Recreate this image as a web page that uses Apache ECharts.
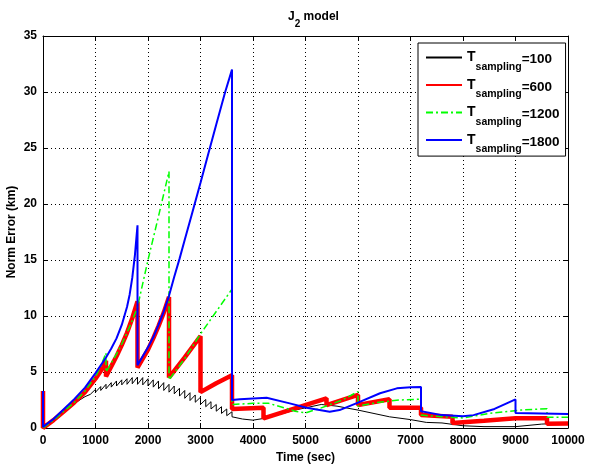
<!DOCTYPE html>
<html>
<head>
<meta charset="utf-8">
<script src="https://cdn.jsdelivr.net/npm/echarts@6/dist/echarts.min.js"></script>
<style>
html,body{margin:0;padding:0;background:#fff;}
#chart{width:589px;height:466px;}
</style>
</head>
<body>
<div id="chart"></div>
<script>
var FONT = '"Liberation Sans", Arial, Helvetica, sans-serif';

// legend labels (T_sampling = ...)
var samplingNames = ['Tsampling=100', 'Tsampling=600', 'Tsampling=1200', 'Tsampling=1800'];

// T=100 : smooth start, then 100 s sawtooth, then smooth tail
var blackStart = [[0,0],[200,0.7],[400,1.5],[600,2.2],[800,2.8],[900,3.0]];
var blackToothTimes = [900,1000,1100,1200,1300,1400,1500,1600,1700,1800,1900,2000,2100,2200,2300,2400,2500,2600,2700,2800,2900,3000,3100,3200,3300,3400,3500,3600];
var blackToothLow  = [3.0,3.2,3.35,3.5,3.65,3.75,3.85,3.9,3.95,3.9,3.85,3.75,3.65,3.5,3.35,3.2,3.05,2.85,2.65,2.45,2.3,2.1,1.9,1.7,1.5,1.3,1.1];
var blackToothHigh = [3.45,3.7,3.9,4.05,4.2,4.3,4.4,4.5,4.55,4.5,4.4,4.3,4.2,4.05,3.9,3.75,3.55,3.35,3.15,2.95,2.75,2.55,2.35,2.1,1.9,1.7,1.45];
var blackTail = [[3600,1.0],[3800,0.8],[4000,0.7],[4200,0.85],[4500,1.2],[4800,1.6],[5300,2.1],[5600,1.95],[6000,1.6],[6600,1.0],[7000,0.75],[7300,0.5],[7600,0.45],[8000,0.2],[8400,0.12],[9000,0.12],[9500,0.35],[10000,0.45]];

// T=600
var redData = [[0,3.3],[0,0],[200,0.7],[400,1.5],[600,2.3],[800,3.2],[1000,4.4],[1100,5.1],[1200,6.0],[1200,4.6],[1300,5.5],[1400,6.4],[1500,7.4],[1600,8.5],[1700,9.8],[1800,11.3],[1800,5.4],[1900,6.2],[2000,7.0],[2100,8.0],[2200,9.1],[2300,10.3],[2400,11.7],[2400,4.5],[2700,6.3],[3000,8.2],[3000,3.2],[3300,4.0],[3600,4.7],[3600,1.7],[4200,1.8],[4200,0.85],[4800,1.75],[5400,2.65],[5400,2.05],[6000,2.95],[6000,2.05],[6600,2.56],[6600,1.8],[7200,1.8],[7200,1.15],[7800,1.0],[7800,0.45],[8400,0.65],[9000,0.87],[9600,0.87],[9600,0.38],[10000,0.4]];

// T=1200
var greenData = [[0,0],[200,0.7],[400,1.5],[600,2.3],[800,3.3],[1000,4.6],[1100,5.5],[1200,6.7],[1200,5.0],[1300,5.8],[1400,6.6],[1500,7.5],[1600,8.5],[1700,9.6],[1800,10.8],[2000,15.0],[2200,18.9],[2400,22.9],[2400,4.3],[2700,6.2],[3000,8.4],[3300,10.4],[3600,12.4],[3600,2.1],[4000,2.2],[4300,2.2],[4600,1.8],[4800,1.5],[5000,1.35],[5300,1.8],[5700,2.5],[6000,3.25],[6000,1.95],[6400,2.3],[6800,2.5],[7200,2.58],[7200,1.15],[7600,1.0],[8000,0.9],[8500,1.3],[9100,1.6],[9600,1.72],[9600,0.95],[10000,0.95]];

// T=1800
var blueData = [[0,3.3],[0,0.1],[200,0.8],[400,1.7],[600,2.6],[800,3.6],[1000,4.9],[1100,5.6],[1200,6.3],[1300,7.1],[1400,8.0],[1500,9.2],[1600,10.8],[1650,11.9],[1700,13.4],[1750,15.4],[1800,18.1],[1800,5.6],[1900,6.4],[2000,7.2],[2100,8.1],[2200,9.2],[2300,10.4],[2400,11.8],[2500,13.5],[2600,15.1],[2700,16.8],[2830,19.0],[3000,21.9],[3150,24.5],[3300,27.1],[3470,30],[3600,32.0],[3600,2.5],[3750,2.56],[4260,2.7],[4700,2.2],[5020,1.8],[5460,1.46],[5650,1.6],[6000,2.26],[6420,3.1],[6740,3.54],[7000,3.63],[7200,3.65],[7200,1.5],[7600,1.15],[8000,1.05],[8200,1.15],[8600,1.7],[9000,2.55],[9000,1.35],[9500,1.3],[10000,1.25]];

// build sawtooth from tooth table
var blackData = blackStart.slice();
for (var i = 0; i < blackToothLow.length; i++) {
  blackData.push([blackToothTimes[i], blackToothLow[i]]);
  blackData.push([blackToothTimes[i + 1], blackToothHigh[i]]);
}
blackData = blackData.concat(blackTail);

var chart = echarts.init(document.getElementById('chart'), null, {renderer: 'canvas'});

function lineSeries(name, data, color, width, type, z) {
  return {
    name: name,
    type: 'line',
    data: data,
    showSymbol: false,
    symbol: 'none',
    z: z,
    lineStyle: {color: color, width: width, type: type},
    itemStyle: {color: color},
    emphasis: {disabled: true}
  };
}

var option = {
  animation: false,
  backgroundColor: '#fff',
  title: {
    text: '{a|J}{b|2}{a| model}',
    left: 283,
    top: 6,
    textStyle: {
      rich: {
        a: {fontFamily: FONT, fontWeight: 'bold', fontSize: 12, color: '#000', lineHeight: 14, verticalAlign: 'top'},
        b: {fontFamily: FONT, fontWeight: 'bold', fontSize: 10, color: '#000', lineHeight: 10, padding: [8, 0, 0, 0], verticalAlign: 'top'}
      }
    }
  },
  legend: {
    orient: 'vertical',
    left: 418,
    top: 43,
    padding: [5, 6, 1, 7],
    itemGap: 2.9,
    itemWidth: 36,
    itemHeight: 24,
    backgroundColor: '#fff',
    borderColor: '#000',
    borderWidth: 1,
    borderRadius: 0,
    itemStyle: {opacity: 0},
    data: samplingNames,
    formatter: function (name) {
      return '{t|T}{s|sampling}{v|=' + name.split('=')[1] + '}';
    },
    textStyle: {
      rich: {
        t: {fontFamily: FONT, fontWeight: 'bold', fontSize: 14, color: '#000', lineHeight: 16, padding: [1, 0, 0, 0], verticalAlign: 'top'},
        s: {fontFamily: FONT, fontWeight: 'bold', fontSize: 10.5, color: '#000', lineHeight: 12, padding: [12, 0, 0, 0], verticalAlign: 'top'},
        v: {fontFamily: FONT, fontWeight: 'bold', fontSize: 13.5, color: '#000', lineHeight: 16, padding: [3, 0, 0, 0], verticalAlign: 'top'}
      }
    }
  },
  grid: {left: 43, right: 21, top: 36, bottom: 38, containLabel: false, outerBoundsMode: 'none'},
  xAxis: [{
    type: 'value',
    min: 0, max: 10000, interval: 1000,
    name: 'Time (sec)',
    nameLocation: 'middle',
    nameGap: 24,
    nameMoveOverlap: false,
    nameTextStyle: {fontFamily: FONT, fontWeight: 'bold', fontSize: 12, color: '#000'},
    axisLine: {show: true, onZero: false, lineStyle: {color: '#000', width: 1}},
    axisTick: {show: true, inside: true, length: 5, lineStyle: {color: '#000'}},
    axisLabel: {fontFamily: FONT, fontWeight: 'bold', fontSize: 12, color: '#000', margin: 7,
      formatter: function (v) { return String(v); }},
    splitLine: {show: true, lineStyle: {color: '#000', width: 1, type: [1, 3]}}
  }, {
    type: 'value', position: 'top',
    min: 0, max: 10000, interval: 1000,
    axisLine: {show: true, onZero: false, lineStyle: {color: '#000', width: 1}},
    axisTick: {show: true, inside: true, length: 5, lineStyle: {color: '#000'}},
    axisLabel: {show: false},
    splitLine: {show: false}
  }],
  yAxis: [{
    type: 'value',
    min: 0, max: 35, interval: 5,
    name: 'Norm Error (km)',
    nameLocation: 'middle',
    nameGap: 25,
    nameMoveOverlap: false,
    nameTextStyle: {fontFamily: FONT, fontWeight: 'bold', fontSize: 12, color: '#000'},
    axisLine: {show: true, onZero: false, lineStyle: {color: '#000', width: 1}},
    axisTick: {show: true, inside: true, length: 5, lineStyle: {color: '#000'}},
    axisLabel: {fontFamily: FONT, fontWeight: 'bold', fontSize: 12, color: '#000', margin: 6},
    splitLine: {show: true, lineStyle: {color: '#000', width: 1, type: [1, 3]}}
  }, {
    type: 'value', position: 'right',
    min: 0, max: 35, interval: 5,
    axisLine: {show: true, onZero: false, lineStyle: {color: '#000', width: 1}},
    axisTick: {show: true, inside: true, length: 5, lineStyle: {color: '#000'}},
    axisLabel: {show: false},
    splitLine: {show: false}
  }],
  series: [
    lineSeries(samplingNames[0], blackData, '#000000', 1, 'solid', 2),
    lineSeries(samplingNames[1], redData, '#ff0000', 4.5, 'solid', 3),
    lineSeries(samplingNames[2], greenData, '#00ff00', 1.5, [7, 3, 2, 3], 4),
    lineSeries(samplingNames[3], blueData, '#0000ff', 2, 'solid', 5)
  ]
};

chart.setOption(option);
</script>
</body>
</html>
